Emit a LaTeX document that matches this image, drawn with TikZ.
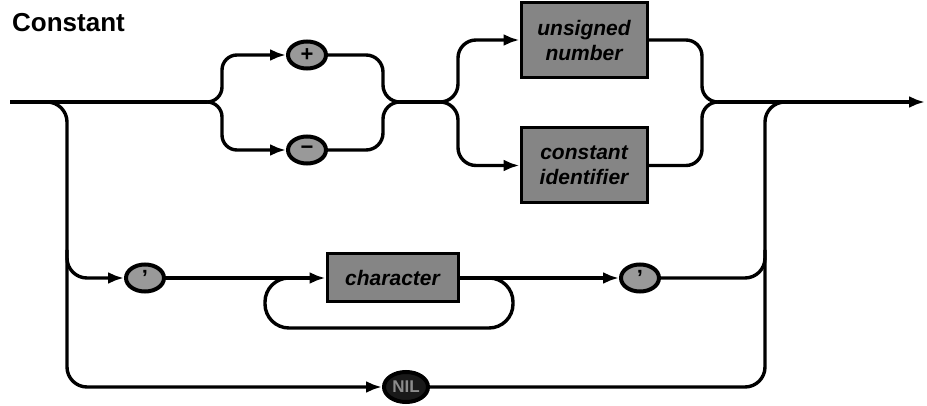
\documentclass[tikz,border=0pt]{standalone}
\usepackage{fontspec}
\setmainfont{Liberation Sans}
\usetikzlibrary{arrows.meta,shapes.geometric}
\begin{document}
\begin{tikzpicture}[x=1pt,y=-1pt,
  conn/.style={line width=3.4pt},
  arr/.style={-{Latex[length=16pt,width=12pt]}},
  termnode/.style={ellipse, draw, line width=4pt, fill=black!40, minimum width=38pt, minimum height=27pt, inner sep=0pt, font=\fontsize{22}{22}\selectfont\bfseries},
  nontermnode/.style={rectangle, draw, line width=3pt, fill=black!48, minimum width=126pt, minimum height=75pt, align=center, font=\fontsize{21}{25}\selectfont\bfseries\itshape, inner sep=2pt}
]
\useasboundingbox (0,0) rectangle (927,406);

\node[anchor=base west, font=\fontsize{26}{30}\selectfont\bfseries, inner sep=0pt] (T) at (12,32) {Constant};

\node[termnode] (P) at (307,55) {+};
\node[termnode] (M) at (307,150) {−};
\node[nontermnode] (U) at (584,40) {unsigned\\number};
\node[nontermnode] (C) at (584,165.5) {constant\\identifier};
\node[termnode] (Q1) at (145,278) {'};
\node[nontermnode, minimum width=131pt, minimum height=48pt] (Ch) at (392.5,278) {character};
\node[termnode] (Q2) at (640,278) {'};
\node[termnode, fill=black!90, minimum width=44pt, minimum height=30pt, text=black!45, font=\fontsize{17}{17}\selectfont\bfseries] (N) at (406,387) {NIL};

\coordinate (S) at (10,102);
\coordinate (L0) at (45,102);
\coordinate (sp1) at (207,102);
\coordinate (j1) at (400,102);
\coordinate (sp2) at (440,102);
\coordinate (j2) at (718,102);
\coordinate (j3) at (785,102);
\coordinate (E) at (925,102);
\coordinate (qb) at (67,250);
\coordinate (qe) at (765,250);
\coordinate (lp) at (485,278);

% main line
\draw[conn] (S) -- (sp1);
\draw[conn] (j1) -- (sp2);
\draw[conn,arr] (j2) -- (E);

% sign group
\draw[conn,arr,rounded corners=15pt] (sp1) -| (222,55) -- (P);
\draw[conn,arr,rounded corners=15pt] (sp1) -| (222,150) -- (M);
\draw[conn,rounded corners=17pt] (P) -| (383,102) -- (j1);
\draw[conn,rounded corners=17pt] (M) -| (383,102) -- (j1);

% box group
\draw[conn,arr,rounded corners=18pt] (sp2) -| (458,40) -- (U);
\draw[conn,arr,rounded corners=18pt] (sp2) -| (458,165.5) -- (C);
\draw[conn,rounded corners=16pt] (U) -| (702,102) -- (j2);
\draw[conn,rounded corners=16pt] (C) -| (702,102) -- (j2);

% left and right verticals with NIL
\draw[conn,arr,rounded corners=20pt] (L0) -| (67,387) -- (N);
\draw[conn,rounded corners=20pt] (N) -| (765,102) -- (j3);

% string branch
\draw[conn,arr,rounded corners=20pt] (qb) |- (Q1);
\draw[conn,arr] (Q1) -- (Ch);
\draw[conn,arr] (Ch) -- (Q2);
\draw[conn,rounded corners=24pt] (lp) -- (513,278) -- (513,328) -- (265,328) -- (265,278) -- (293,278);
\draw[conn,rounded corners=20pt] (Q2) -| (qe);
\end{tikzpicture}
\end{document}
